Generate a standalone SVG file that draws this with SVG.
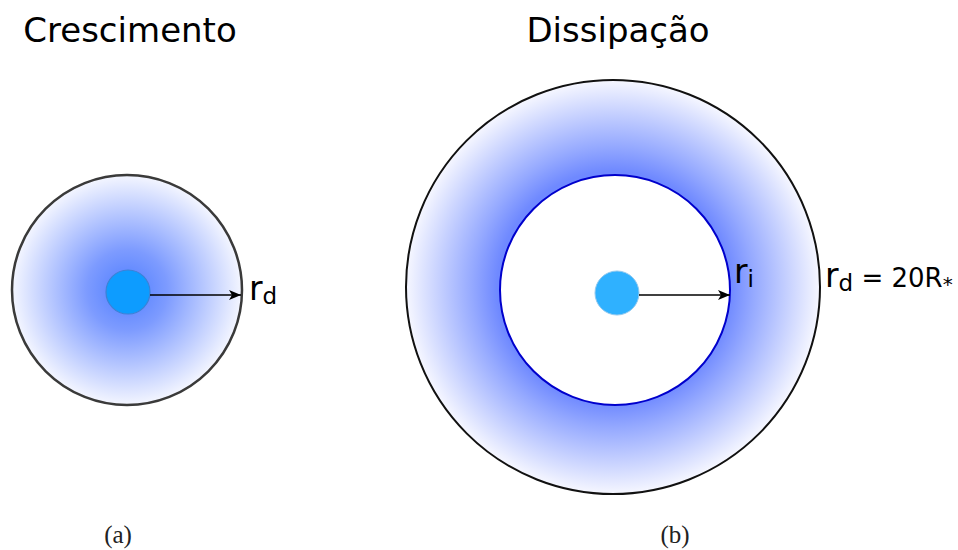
<svg xmlns="http://www.w3.org/2000/svg" width="958" height="550" viewBox="0 0 958 550">
<defs>
<radialGradient id="gA" cx="0.5" cy="0.5" r="0.5">
<stop offset="0" stop-color="#4f7dff"/>
<stop offset="0.35" stop-color="#7d9bff"/>
<stop offset="1" stop-color="#f4f6ff"/>
</radialGradient>
<radialGradient id="gB" cx="0.5" cy="0.5" r="0.5">
<stop offset="0" stop-color="#6f89ff"/>
<stop offset="0.56" stop-color="#6f89ff"/>
<stop offset="0.68" stop-color="#95a9ff"/>
<stop offset="1" stop-color="#f6f7ff"/>
</radialGradient>
<marker id="arr" viewBox="0 0 12 10" refX="12" refY="5" markerWidth="12" markerHeight="10" markerUnits="userSpaceOnUse" orient="auto">
<path d="M0,0 L12,5 L0,10 L3,5 Z" fill="#000"/>
</marker>
<style>
.t{font-family:"DejaVu Sans",sans-serif;fill:#000}
.s{font-family:"Liberation Serif",serif;fill:#222;font-size:25px}
</style>
</defs>
<text class="t" x="130" y="42" font-size="34" text-anchor="middle">Crescimento</text>
<text class="t" x="618" y="42" font-size="34" text-anchor="middle">Dissipação</text>
<g id="diskA">
<circle cx="127" cy="290" r="115" fill="url(#gA)" stroke="#3a3a3a" stroke-width="2.5"/>
</g>
<g id="starA">
<circle cx="128" cy="292" r="22" fill="#0d9cff" stroke="#3b82d6" stroke-width="1.2"/>
</g>
<g id="diskB">
<circle cx="613" cy="287" r="207" fill="url(#gB)" stroke="#111" stroke-width="2"/>
<circle cx="615" cy="290" r="115" fill="#fff" stroke="#0000cc" stroke-width="2"/>
</g>
<g id="starB">
<circle cx="617" cy="293" r="22" fill="#2fb1ff" stroke="#8fc8ef" stroke-width="1"/>
</g>
<g id="connectors">
<line x1="150" y1="295" x2="241" y2="295" stroke="#000" stroke-width="1.3" marker-end="url(#arr)"/>
<line x1="639" y1="295" x2="730" y2="295" stroke="#000" stroke-width="1.3" marker-end="url(#arr)"/>
</g>
<text class="t" x="249" y="300" font-size="33">r<tspan font-size="23" dy="4">d</tspan></text>
<text class="t" x="734" y="283" font-size="33">r<tspan font-size="23" dy="4">i</tspan></text>
<text class="t" x="825" y="287" font-size="33">r<tspan font-size="23" dy="4">d</tspan><tspan dy="-4" font-size="26"> = 20R</tspan><tspan font-size="20" dy="4">*</tspan></text>
<text class="s" x="118" y="543" text-anchor="middle">(a)</text>
<text class="s" x="675" y="543" text-anchor="middle">(b)</text>
</svg>
